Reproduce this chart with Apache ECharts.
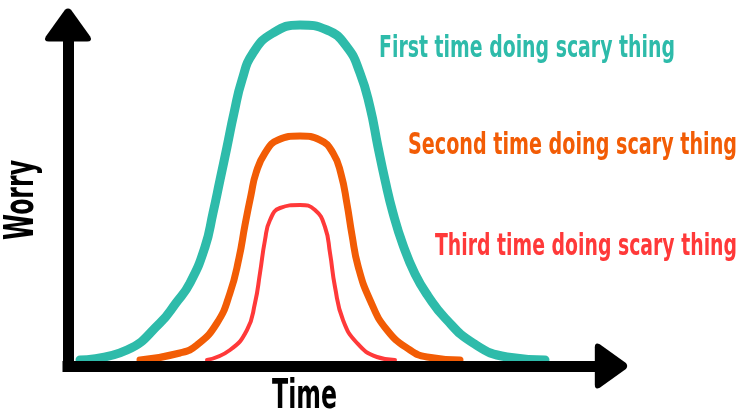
<!DOCTYPE html>
<html>
<head>
<meta charset="utf-8">
<script src="https://cdn.jsdelivr.net/npm/echarts@6/dist/echarts.min.js"></script>
<style>
  html, body { margin: 0; padding: 0; background: #fff; }
  #chart { width: 739px; height: 415px; }
</style>
</head>
<body>
<div id="chart"></div>
<script>
// curves: [time, worry]
var firstTime = [
  [12, 6], [59, 16], [92, 43], [108, 63], [122, 83], [137, 119], [145, 153],
  [152, 186], [159, 219], [166, 253], [174, 286], [185, 313], [205, 333],
  [232, 341], [259, 336], [279, 319], [292, 293], [302, 259], [310, 219],
  [317, 186], [325, 153], [335, 121], [347, 92], [360, 70], [377, 48],
  [405, 23], [439, 9], [477, 6]
];
var secondTime = [
  [72, 6], [112, 13], [129, 21], [149, 43], [162, 73], [171, 108], [177, 141],
  [183, 171], [188, 193], [197, 213], [210, 226], [232, 230], [252, 226],
  [265, 213], [273, 192], [279, 162], [284, 131], [290, 100], [302, 66],
  [319, 36], [342, 16], [359, 9], [392, 6]
];
var thirdTime = [
  [139, 6], [162, 16], [179, 36], [187, 63], [192, 93], [197, 126], [202, 146],
  [212, 158], [232, 161], [247, 156], [257, 139], [262, 113], [267, 79],
  [275, 46], [289, 23], [309, 9], [327, 6]
];
var lineLabels = ['First time doing scary thing', 'Second time doing scary thing', 'Third time doing scary thing'];
var axisNames = ['Time', 'Worry'];

var colors = ['#2ebbaa', '#f25c05', '#ff3939'];
var fontFamily = '"DejaVu Sans", sans-serif';

// squeeze a bold font to the narrow poster look
var ctx = document.createElement('canvas').getContext('2d');
function squeeze(text, size, width) {
    ctx.font = 'bold ' + size + 'px ' + fontFamily;
    return width / ctx.measureText(text).width;
}
function label(text, color, size, x, y, width, rotation) {
    return {
        type: 'text',
        x: x,
        y: y,
        rotation: rotation || 0,
        scaleX: squeeze(text, size, width),
        z: 10,
        style: {
            text: text,
            fill: color,
            font: 'bold ' + size + 'px ' + fontFamily,
            align: 'left',
            verticalAlign: 'middle'
        }
    };
}
function curve(name, data, color, width) {
    return {
        name: name,
        type: 'line',
        smooth: 0.5,
        showSymbol: false,
        clip: false,
        data: data,
        lineStyle: { color: color, width: width, cap: 'round' }
    };
}

var arrow = 'path://M20,2.5 Q23,0 26,2.5 L45,29 Q47.5,34 42,34 L4,34 Q-1.5,34 1,29 Z';

var myChart = echarts.init(document.getElementById('chart'));
var option = {
    backgroundColor: '#fff',
    animation: false,
    grid: { left: 68, right: 128, top: 25, bottom: 49 },
    xAxis: {
        type: 'value',
        min: 0,
        max: 543,
        z: 5,
        axisLine: {
            show: true,
            symbol: ['none', arrow],
            symbolSize: [45, 35],
            lineStyle: { color: '#000', width: 11, cap: 'square' }
        },
        axisTick: { show: false },
        axisLabel: { show: false },
        splitLine: { show: false }
    },
    yAxis: {
        type: 'value',
        min: 0,
        max: 341,
        z: 5,
        axisLine: {
            show: true,
            symbol: ['none', arrow],
            symbolSize: [46, 34],
            lineStyle: { color: '#000', width: 11, cap: 'square' }
        },
        axisTick: { show: false },
        axisLabel: { show: false },
        splitLine: { show: false }
    },
    series: [
        curve(lineLabels[0], firstTime, colors[0], 9),
        curve(lineLabels[1], secondTime, colors[1], 7),
        curve(lineLabels[2], thirdTime, colors[2], 4)
    ],
    graphic: [
        label(lineLabels[0], colors[0], 30, 379, 49, 296),
        label(lineLabels[1], colors[1], 30, 408, 146, 329),
        label(lineLabels[2], colors[2], 31, 435, 247, 302),
        label(axisNames[0], '#000', 41, 272, 397, 65),
        label(axisNames[1], '#000', 40, 23, 240, 80, Math.PI / 2)
    ]
};
myChart.setOption(option);
window.addEventListener('resize', function () {
    myChart.resize();
});
</script>
</body>
</html>
